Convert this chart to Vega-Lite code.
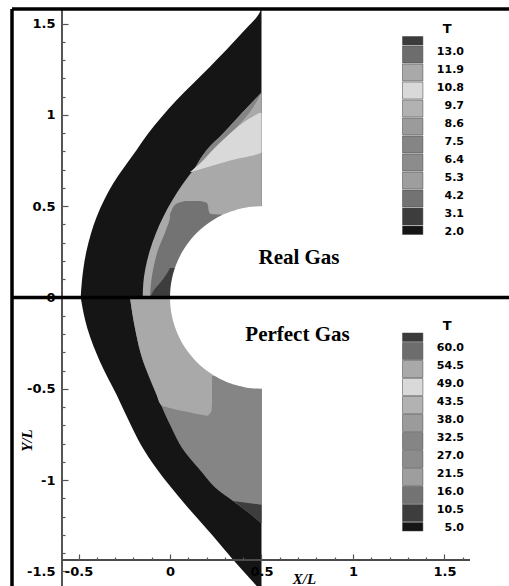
{
  "$schema": "https://vega.github.io/schema/vega-lite/v6.json",
  "width": 509,
  "height": 586,
  "padding": 0,
  "autosize": {"type": "none"},
  "background": "white",
  "config": {"view": {"stroke": null}},
  "datasets": {
    "top": [
      {"r": "a", "T": "2.0", "y": 0, "x": -0.488, "x2": 0.5},
      {"r": "a", "T": "2.0", "y": 0.0778, "x": -0.4825, "x2": 0.5},
      {"r": "a", "T": "2.0", "y": 0.2603, "x": -0.4552, "x2": 0.5},
      {"r": "a", "T": "2.0", "y": 0.4427, "x": -0.4005, "x2": 0.5},
      {"r": "a", "T": "2.0", "y": 0.6258, "x": -0.3098, "x2": 0.5},
      {"r": "a", "T": "2.0", "y": 0.8082, "x": -0.1825, "x2": 0.5},
      {"r": "a", "T": "2.0", "y": 0.8997, "x": -0.1186, "x2": 0.5},
      {"r": "a", "T": "2.0", "y": 1.0822, "x": 0.0366, "x2": 0.5},
      {"r": "a", "T": "2.0", "y": 1.2647, "x": 0.2186, "x2": 0.5},
      {"r": "a", "T": "2.0", "y": 1.4477, "x": 0.3918, "x2": 0.5},
      {"r": "a", "T": "2.0", "y": 1.566, "x": 0.4918, "x2": 0.5},
      {"r": "a", "T": "2.0", "y": 1.5808, "x": 0.4973, "x2": 0.5},

      {"r": "b", "T": "11.9", "y": 0, "x": -0.1492, "x2": 0.5},
      {"r": "b", "T": "11.9", "y": 0.0778, "x": -0.1459, "x2": 0.5},
      {"r": "b", "T": "11.9", "y": 0.2603, "x": -0.1093, "x2": 0.5},
      {"r": "b", "T": "11.9", "y": 0.4427, "x": -0.0366, "x2": 0.5},
      {"r": "b", "T": "11.9", "y": 0.6258, "x": 0.0727, "x2": 0.5},
      {"r": "b", "T": "11.9", "y": 0.7167, "x": 0.14, "x2": 0.5},
      {"r": "b", "T": "11.9", "y": 0.8082, "x": 0.2005, "x2": 0.5},
      {"r": "b", "T": "11.9", "y": 0.8997, "x": 0.2913, "x2": 0.5},
      {"r": "b", "T": "11.9", "y": 1.0093, "x": 0.3918, "x2": 0.5},
      {"r": "b", "T": "11.9", "y": 1.1233, "x": 0.5, "x2": 0.5},

      {"r": "c", "T": "7.5", "y": 0.7167, "x": 0.14, "x2": 0.146},
      {"r": "c", "T": "7.5", "y": 0.8082, "x": 0.2005, "x2": 0.232},
      {"r": "c", "T": "7.5", "y": 0.8997, "x": 0.2913, "x2": 0.331},
      {"r": "c", "T": "7.5", "y": 1.0093, "x": 0.3918, "x2": 0.432},
      {"r": "c", "T": "7.5", "y": 1.1233, "x": 0.5, "x2": 0.5},

      {"r": "d", "T": "10.8", "y": 0.6877, "x": 0.1093, "x2": 0.1148},
      {"r": "d", "T": "10.8", "y": 0.7151, "x": 0.1421, "x2": 0.2077},
      {"r": "d", "T": "10.8", "y": 0.7534, "x": 0.1858, "x2": 0.3388},
      {"r": "d", "T": "10.8", "y": 0.7973, "x": 0.224, "x2": 0.5},
      {"r": "d", "T": "10.8", "y": 0.863, "x": 0.2896, "x2": 0.5},
      {"r": "d", "T": "10.8", "y": 0.9178, "x": 0.3497, "x2": 0.5},
      {"r": "d", "T": "10.8", "y": 0.9726, "x": 0.4208, "x2": 0.5},
      {"r": "d", "T": "10.8", "y": 1.011, "x": 0.4863, "x2": 0.5},

      {"r": "e", "T": "4.2", "y": 0, "x": -0.1093, "x2": 0.5},
      {"r": "e", "T": "4.2", "y": 0.0795, "x": -0.1038, "x2": 0.5},
      {"r": "e", "T": "4.2", "y": 0.1507, "x": -0.0929, "x2": 0.5},
      {"r": "e", "T": "4.2", "y": 0.2603, "x": -0.0656, "x2": 0.5},
      {"r": "e", "T": "4.2", "y": 0.3699, "x": -0.0219, "x2": 0.5},
      {"r": "e", "T": "4.2", "y": 0.4438, "x": 0, "x2": 0.5},
      {"r": "e", "T": "4.2", "y": 0.4575, "x": 0, "x2": 0.224},
      {"r": "e", "T": "4.2", "y": 0.4685, "x": 0.0055, "x2": 0.2131},
      {"r": "e", "T": "4.2", "y": 0.5014, "x": 0.0219, "x2": 0.2077},
      {"r": "e", "T": "4.2", "y": 0.5178, "x": 0.0437, "x2": 0.2022},
      {"r": "e", "T": "4.2", "y": 0.5288, "x": 0.082, "x2": 0.1639},

      {"r": "f", "T": "3.1", "y": 0, "x": -0.1093, "x2": 0.5},
      {"r": "f", "T": "3.1", "y": 0.0411, "x": -0.0874, "x2": 0.5},
      {"r": "f", "T": "3.1", "y": 0.0795, "x": -0.0546, "x2": 0.5},
      {"r": "f", "T": "3.1", "y": 0.1233, "x": -0.0219, "x2": 0.5},
      {"r": "f", "T": "3.1", "y": 0.1616, "x": 0, "x2": 0.5}
    ],
    "bottom": [
      {"r": "a", "T": "5.0", "y": -1.5808, "x": 0.4738, "x2": 0.5},
      {"r": "a", "T": "5.0", "y": -1.4384, "x": 0.3459, "x2": 0.5},
      {"r": "a", "T": "5.0", "y": -1.3068, "x": 0.235, "x2": 0.5},
      {"r": "a", "T": "5.0", "y": -1.126, "x": 0.0765, "x2": 0.5},
      {"r": "a", "T": "5.0", "y": -0.9414, "x": -0.071, "x2": 0.5},
      {"r": "a", "T": "5.0", "y": -0.8082, "x": -0.1585, "x2": 0.5},
      {"r": "a", "T": "5.0", "y": -0.6893, "x": -0.2186, "x2": 0.5},
      {"r": "a", "T": "5.0", "y": -0.5342, "x": -0.2913, "x2": 0.5},
      {"r": "a", "T": "5.0", "y": -0.3518, "x": -0.3825, "x2": 0.5},
      {"r": "a", "T": "5.0", "y": -0.1688, "x": -0.4519, "x2": 0.5},
      {"r": "a", "T": "5.0", "y": 0, "x": -0.488, "x2": 0.5},

      {"r": "b", "T": "32.5", "y": -1.2373, "x": 0.5, "x2": 0.5},
      {"r": "b", "T": "32.5", "y": -1.2192, "x": 0.4776, "x2": 0.5},
      {"r": "b", "T": "32.5", "y": -1.1918, "x": 0.4454, "x2": 0.5},
      {"r": "b", "T": "32.5", "y": -1.1644, "x": 0.4098, "x2": 0.5},
      {"r": "b", "T": "32.5", "y": -1.1151, "x": 0.3443, "x2": 0.5},
      {"r": "b", "T": "32.5", "y": -1.0548, "x": 0.2623, "x2": 0.5},
      {"r": "b", "T": "32.5", "y": -0.9452, "x": 0.1639, "x2": 0.5},
      {"r": "b", "T": "32.5", "y": -0.8247, "x": 0.0656, "x2": 0.5},
      {"r": "b", "T": "32.5", "y": -0.7167, "x": 0.0093, "x2": 0.5},
      {"r": "b", "T": "32.5", "y": -0.5342, "x": -0.0727, "x2": 0.5},
      {"r": "b", "T": "32.5", "y": -0.3518, "x": -0.1459, "x2": 0.5},
      {"r": "b", "T": "32.5", "y": -0.1688, "x": -0.1913, "x2": 0.5},
      {"r": "b", "T": "32.5", "y": 0, "x": -0.2186, "x2": 0.5},

      {"r": "c", "T": "54.5", "y": -0.6477, "x": 0.2005, "x2": 0.2077},
      {"r": "c", "T": "54.5", "y": -0.6384, "x": 0.1475, "x2": 0.2158},
      {"r": "c", "T": "54.5", "y": -0.6274, "x": 0.0984, "x2": 0.224},
      {"r": "c", "T": "54.5", "y": -0.6164, "x": 0.0415, "x2": 0.2279},
      {"r": "c", "T": "54.5", "y": -0.6055, "x": 0, "x2": 0.2279},
      {"r": "c", "T": "54.5", "y": -0.589, "x": -0.0492, "x2": 0.2295},
      {"r": "c", "T": "54.5", "y": -0.5342, "x": -0.0727, "x2": 0.2295},
      {"r": "c", "T": "54.5", "y": -0.4301, "x": -0.1142, "x2": 0.2295},
      {"r": "c", "T": "54.5", "y": -0.4192, "x": -0.1186, "x2": 0.5},
      {"r": "c", "T": "54.5", "y": -0.3518, "x": -0.1459, "x2": 0.5},
      {"r": "c", "T": "54.5", "y": -0.1688, "x": -0.1913, "x2": 0.5},
      {"r": "c", "T": "54.5", "y": 0, "x": -0.2186, "x2": 0.5},

      {"r": "d", "T": "10.5", "y": -1.2373, "x": 0.5, "x2": 0.5},
      {"r": "d", "T": "10.5", "y": -1.2192, "x": 0.4776, "x2": 0.5},
      {"r": "d", "T": "10.5", "y": -1.1918, "x": 0.4454, "x2": 0.5},
      {"r": "d", "T": "10.5", "y": -1.1644, "x": 0.4098, "x2": 0.5},
      {"r": "d", "T": "10.5", "y": -1.137, "x": 0.3754, "x2": 0.5},
      {"r": "d", "T": "10.5", "y": -1.126, "x": 0.3628, "x2": 0.4262},
      {"r": "d", "T": "10.5", "y": -1.1151, "x": 0.3443, "x2": 0.3443}
    ],
    "body": [
      {"y": -0.5, "x": 0.5, "x2": 0.51},
      {"y": -0.499, "x": 0.4684, "x2": 0.51},
      {"y": -0.497, "x": 0.4453, "x2": 0.51},
      {"y": -0.49, "x": 0.4005, "x2": 0.51},
      {"y": -0.48, "x": 0.36, "x2": 0.51},
      {"y": -0.46, "x": 0.304, "x2": 0.51},
      {"y": -0.43, "x": 0.2449, "x2": 0.51},
      {"y": -0.4, "x": 0.2, "x2": 0.51},
      {"y": -0.35, "x": 0.1429, "x2": 0.51},
      {"y": -0.3, "x": 0.1, "x2": 0.51},
      {"y": -0.25, "x": 0.067, "x2": 0.51},
      {"y": -0.2, "x": 0.0417, "x2": 0.51},
      {"y": -0.15, "x": 0.023, "x2": 0.51},
      {"y": -0.1, "x": 0.0101, "x2": 0.51},
      {"y": -0.05, "x": 0.0025, "x2": 0.51},
      {"y": 0, "x": 0, "x2": 0.51},
      {"y": 0.05, "x": 0.0025, "x2": 0.51},
      {"y": 0.1, "x": 0.0101, "x2": 0.51},
      {"y": 0.15, "x": 0.023, "x2": 0.51},
      {"y": 0.2, "x": 0.0417, "x2": 0.51},
      {"y": 0.25, "x": 0.067, "x2": 0.51},
      {"y": 0.3, "x": 0.1, "x2": 0.51},
      {"y": 0.35, "x": 0.1429, "x2": 0.51},
      {"y": 0.4, "x": 0.2, "x2": 0.51},
      {"y": 0.43, "x": 0.2449, "x2": 0.51},
      {"y": 0.46, "x": 0.304, "x2": 0.51},
      {"y": 0.48, "x": 0.36, "x2": 0.51},
      {"y": 0.49, "x": 0.4005, "x2": 0.51},
      {"y": 0.497, "x": 0.4453, "x2": 0.51},
      {"y": 0.499, "x": 0.4684, "x2": 0.51},
      {"y": 0.5, "x": 0.5, "x2": 0.51}
    ]
  },
  "layer": [
    {
      "data": {"name": "top"},
      "mark": {"type": "area", "orient": "horizontal", "interpolate": "monotone"},
      "encoding": {
        "y": {
          "field": "y", "type": "quantitative",
          "scale": {"domain": [-1.5808, 1.6301], "nice": false, "zero": false},
          "axis": {
            "values": [-1.5, -1.4, -1.3, -1.2, -1.1, -1, -0.9, -0.8, -0.7, -0.6, -0.5, -0.4, -0.3, -0.2, -0.1, 0, 0.1, 0.2, 0.3, 0.4, 0.5, 0.6, 0.7, 0.8, 0.9, 1, 1.1, 1.2, 1.3, 1.4, 1.5],
            "tickCount": 200,
            "domain": false, "grid": false, "offset": -62, "zindex": 0,
            "tickSize": {"condition": {"test": "abs(datum.value*2-round(datum.value*2))<0.001", "value": -6}, "value": -3},
            "tickColor": "#555555", "tickWidth": 1.2,
            "labelExpr": "abs(datum.value*2-round(datum.value*2))<0.001 ? replace(replace(format(datum.value,'.1f'),'.0',''),'\u2212','-') : ''",
            "labelFont": "DejaVu Sans", "labelFontWeight": "bold", "labelFontSize": 13, "labelColor": "black",
            "labelPadding": 13, "labelOverlap": false, "labelFlush": false,
            "title": "Y/L", "titleFont": "Liberation Serif", "titleFontStyle": "italic", "titleFontWeight": "bold",
            "titleFontSize": 15, "titleColor": "black", "titleAngle": 270, "titleX": -36, "titleY": 440,
            "titleAlign": "center", "titleBaseline": "middle"
          }
        },
        "x": {
          "field": "x", "type": "quantitative",
          "scale": {"domain": [-0.929, 1.8525], "nice": false, "zero": false},
          "axis": {
            "values": [-0.5, -0.4, -0.3, -0.2, -0.1, 0, 0.1, 0.2, 0.3, 0.4, 0.5, 0.6, 0.7, 0.8, 0.9, 1, 1.1, 1.2, 1.3, 1.4, 1.5, 1.6],
            "tickCount": 200,
            "orient": "bottom", "domain": false, "grid": false, "offset": -26, "zindex": 1,
            "tickSize": {"condition": {"test": "abs(datum.value*2-round(datum.value*2))<0.001", "value": -6}, "value": -3},
            "tickColor": "#555555", "tickWidth": 1.2,
            "labelExpr": "abs(datum.value*2-round(datum.value*2))<0.001 ? replace(replace(format(datum.value,'.1f'),'.0',''),'\u2212','-') : ''",
            "labelFont": "DejaVu Sans", "labelFontWeight": "bold", "labelFontSize": 13, "labelColor": "black",
            "labelPadding": 11, "labelOverlap": false, "labelFlush": false,
            "title": "X/L", "titleFont": "Liberation Serif", "titleFontStyle": "italic", "titleFontWeight": "bold",
            "titleFontSize": 15, "titleColor": "black", "titleX": 304, "titleY": 23,
            "titleAlign": "center", "titleBaseline": "alphabetic"
          }
        },
        "x2": {"field": "x2"},
        "detail": {"field": "r"},
        "color": {
          "field": "T", "type": "nominal",
          "scale": {
            "domain": [">13.0", "13.0", "11.9", "10.8", "9.7", "8.6", "7.5", "6.4", "5.3", "4.2", "3.1", "2.0"],
            "range": ["#3b3b3b", "#6d6d6d", "#a9a9a9", "#d9d9d9", "#b2b2b2", "#9b9b9b", "#858585", "#8c8c8c", "#9e9e9e", "#737373", "#3d3d3d", "#151515"]
          },
          "legend": {
            "orient": "none", "legendX": 403.7, "legendY": 22.5, "title": "T",
            "titleFont": "DejaVu Sans", "titleFontSize": 13, "titleFontWeight": "bold", "titleColor": "black",
            "titlePadding": -8, "titleAnchor": "start", "titleAlign": "left",
            "symbolType": "M-1.2,-1H1.2V1H-1.2Z", "symbolSize": 289, "symbolStrokeWidth": 0.5, "symbolStrokeColor": "#404040", "symbolOpacity": 1,
            "labelFont": "DejaVu Sans", "labelFontSize": 11, "labelFontWeight": "bold", "labelColor": "black",
            "labelAlign": "right", "labelBaseline": "alphabetic", "labelOffset": 42.3, "rowPadding": -3,
            "encode": {
              "symbols": {"update": {"strokeJoin": {"value": "round"}, "shape": {"signal": "datum.value === '>13.0' ? 'M-1.2,0H1.2V1H-1.2Z' : datum.value === '2.0' ? 'M-1.2,-1H1.2V0H-1.2Z' : 'M-1.2,-1H1.2V1H-1.2Z'"}}},
              "labels": {"update": {"text": {"signal": "datum.value === '>13.0' ? '' : datum.label"}, "fontSize": {"signal": "datum.value === '>13.0' ? 0 : 11"}}},
              "title": {"update": {"dx": {"value": 39}}}
            }
          }
        }
      }
    },
    {
      "data": {"name": "bottom"},
      "mark": {"type": "area", "orient": "horizontal", "interpolate": "monotone"},
      "encoding": {
        "y": {"field": "y", "type": "quantitative"},
        "x": {"field": "x", "type": "quantitative"},
        "x2": {"field": "x2"},
        "detail": {"field": "r"},
        "color": {
          "field": "T", "type": "nominal",
          "scale": {
            "domain": [">60.0", "60.0", "54.5", "49.0", "43.5", "38.0", "32.5", "27.0", "21.5", "16.0", "10.5", "5.0"],
            "range": ["#3b3b3b", "#6d6d6d", "#a9a9a9", "#d9d9d9", "#b2b2b2", "#9b9b9b", "#858585", "#8c8c8c", "#9e9e9e", "#737373", "#3d3d3d", "#151515"]
          },
          "legend": {
            "orient": "none", "legendX": 403.7, "legendY": 320, "title": "T",
            "titleFont": "DejaVu Sans", "titleFontSize": 13, "titleFontWeight": "bold", "titleColor": "black",
            "titlePadding": -9, "titleAnchor": "start", "titleAlign": "left",
            "symbolType": "M-1.2,-1H1.2V1H-1.2Z", "symbolSize": 289, "symbolStrokeWidth": 0.5, "symbolStrokeColor": "#404040", "symbolOpacity": 1,
            "labelFont": "DejaVu Sans", "labelFontSize": 11, "labelFontWeight": "bold", "labelColor": "black",
            "labelAlign": "right", "labelBaseline": "alphabetic", "labelOffset": 42.3, "rowPadding": -3,
            "encode": {
              "symbols": {"update": {"strokeJoin": {"value": "round"}, "shape": {"signal": "datum.value === '>60.0' ? 'M-1.2,0H1.2V1H-1.2Z' : datum.value === '5.0' ? 'M-1.2,-1H1.2V0H-1.2Z' : 'M-1.2,-1H1.2V1H-1.2Z'"}}},
              "labels": {"update": {"text": {"signal": "datum.value === '>60.0' ? '' : datum.label"}, "fontSize": {"signal": "datum.value === '>60.0' ? 0 : 11"}}},
              "title": {"update": {"dx": {"value": 39}}}
            }
          }
        }
      }
    },
    {
      "data": {"name": "body"},
      "mark": {"type": "area", "orient": "horizontal", "interpolate": "monotone", "fill": "white"},
      "encoding": {
        "y": {"field": "y", "type": "quantitative"},
        "x": {"field": "x", "type": "quantitative"},
        "x2": {"field": "x2"}
      }
    },
    {
      "data": {"values": [{}]},
      "mark": {"type": "rule", "color": "#555555", "strokeWidth": 2},
      "encoding": {"x": {"datum": -0.5902}, "y": {"datum": -1.5808}, "y2": {"datum": 1.5808}}
    },
    {
      "data": {"values": [{}]},
      "mark": {"type": "rule", "color": "#4a4a4a", "strokeWidth": 2},
      "encoding": {"y": {"datum": -1.4384}, "x": {"datum": -0.5902}, "x2": {"datum": 1.6393}}
    },
    {
      "data": {"values": [{}]},
      "mark": {"type": "rule", "color": "black", "strokeWidth": 3.5},
      "encoding": {"y": {"datum": 1.5808}, "x": {"datum": -0.8634}, "x2": {"datum": 1.8525}}
    },
    {
      "data": {"values": [{}]},
      "mark": {"type": "rule", "color": "black", "strokeWidth": 3.5},
      "encoding": {"x": {"datum": -0.8634}, "y": {"datum": -1.5808}, "y2": {"datum": 1.5808}}
    },
    {
      "data": {"values": [{}]},
      "mark": {"type": "rule", "color": "black", "strokeWidth": 3.5},
      "encoding": {"y": {"datum": 0}, "x": {"datum": -0.8634}, "x2": {"datum": 1.8525}}
    },
    {
      "data": {"values": [{}]},
      "mark": {"type": "text", "text": "Real Gas", "font": "Liberation Serif", "fontWeight": "bold", "fontSize": 21, "align": "center", "baseline": "alphabetic", "color": "black"},
      "encoding": {"x": {"datum": 0.7049}, "y": {"datum": 0.1836}}
    },
    {
      "data": {"values": [{}]},
      "mark": {"type": "text", "text": "Perfect Gas", "font": "Liberation Serif", "fontWeight": "bold", "fontSize": 21, "align": "center", "baseline": "alphabetic", "color": "black"},
      "encoding": {"x": {"datum": 0.6967}, "y": {"datum": -0.2384}}
    }
  ],
  "resolve": {"scale": {"color": "independent"}}
}
